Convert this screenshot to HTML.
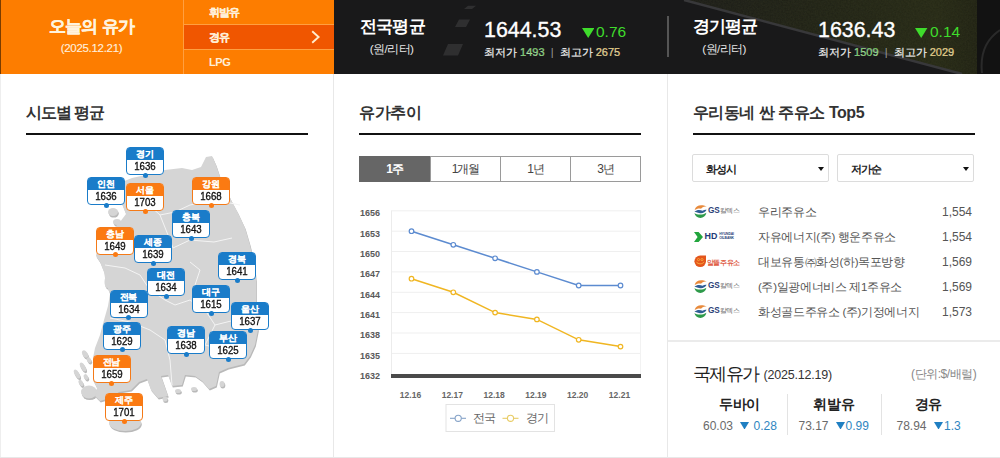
<!DOCTYPE html>
<html><head><meta charset="utf-8">
<style>
*{margin:0;padding:0;box-sizing:border-box}
html,body{width:1000px;height:458px;overflow:hidden;background:#fff;font-family:"Liberation Sans",sans-serif;color:#222;position:relative}
.abs{position:absolute;white-space:nowrap}
#hdr{position:absolute;left:0;top:0;width:1000px;height:74px;background:#141414}
#orange{position:absolute;left:0;top:0;width:334px;height:74px;background:#fd7d00;z-index:2}
#dark{position:absolute;left:333px;top:0;width:667px;height:74px;background:#171717;overflow:hidden}
.ttl{position:absolute;font-size:16px;letter-spacing:-1.1px;font-weight:bold;color:#333;white-space:nowrap}
.tline{position:absolute;height:2px;background:#111}
.vl{position:absolute;width:1px;background:#e8e8e8}
.lb{position:absolute;width:38px;height:28px;border-radius:4px;background:#fff;border:1.5px solid #1a7cc9;overflow:visible}
.lb .lh{height:12px;background:#1a7cc9;color:#fff;font-size:9px;font-weight:bold;text-align:center;line-height:12px;border-radius:2px 2px 0 0;letter-spacing:-0.4px;text-indent:-0.4px;-webkit-text-stroke:0.1px #fff}
.lb .lv{height:13px;color:#111;font-size:11.5px;text-align:center;line-height:13px;transform:scaleX(0.84);-webkit-text-stroke:0.35px #111}
.lb i{position:absolute;left:15.5px;top:24.5px;width:5px;height:5px;border-radius:50%;background:#1a7cc9}
.lb.o{border-color:#f47a18}
.lb.o .lh,.lb.o i{background:#fb7a12}
.lb.o .lh{color:#fff0d6}
.tab{position:absolute;top:156px;height:26px;border:1px solid #9a9a9a;font-size:12px;letter-spacing:-1px;text-align:center;line-height:24px;color:#444;background:#fff}
.dd{position:absolute;top:154px;height:28px;border:1px solid #dcdcdc;border-radius:2px;background:#fff}
.dd span{position:absolute;left:12.5px;top:7px;font-size:11px;letter-spacing:-0.6px;font-weight:bold;color:#222}
.dd b{position:absolute;right:4px;top:11.5px;width:0;height:0;border-left:3.8px solid transparent;border-right:3.8px solid transparent;border-top:4.6px solid #111}
.row{position:absolute;left:693px;width:282px;height:25px}
.row .nm{position:absolute;left:65px;top:5px;font-size:11.5px;letter-spacing:-0.35px;color:#555;white-space:nowrap}
.row .pr{position:absolute;right:3px;top:4.5px;font-size:12px;color:#555}
.col{position:absolute;top:394px;width:95px;text-align:center}
.col .cn{font-size:14px;letter-spacing:-0.3px;font-weight:bold;color:#222;line-height:20px}
.cv{top:418px;font-size:12px;color:#6a6a6a;line-height:16px}
.cv.bl{color:#2f86bf}
.tri{top:421.8px;width:9px;height:7.6px;fill:#1f7fc2}
</style></head><body>
<div id="hdr">
 <div id="orange">
  <div class="abs" style="left:0;width:183px;top:15px;text-align:center;font-size:17px;letter-spacing:-0.65px;font-weight:bold;color:#fff3de;-webkit-text-stroke:0.3px #fff3de">오늘의 유가</div>
  <div class="abs" style="left:0;width:183px;top:42px;text-align:center;font-size:11.5px;letter-spacing:-0.3px;color:#ffeedd;-webkit-text-stroke:0.15px #ffeedd">(2025.12.21)</div>
  <div class="abs" style="left:183px;top:0;width:1px;height:74px;background:#ff9f40"></div>
  <div class="abs" style="left:0;top:0;width:1px;height:74px;background:#7a3c00"></div>
  <div class="abs" style="left:184px;top:24px;width:150px;height:25px;background:#f05600"></div>
  <div class="abs" style="left:184px;top:24px;width:150px;height:1px;background:#ff9f40"></div>
  <div class="abs" style="left:184px;top:49px;width:150px;height:1px;background:#ff9f40"></div>
  <div class="abs" style="left:209px;top:4.5px;font-size:11px;letter-spacing:-0.9px;font-weight:bold;color:#ffefd8;-webkit-text-stroke:0.2px #ffefd8">휘발유</div>
  <div class="abs" style="left:209px;top:29.5px;font-size:11px;letter-spacing:-1px;font-weight:bold;color:#ffefd8;-webkit-text-stroke:0.2px #ffefd8">경유</div>
  <div class="abs" style="left:209px;top:56px;font-size:11px;letter-spacing:-0.4px;font-weight:bold;color:#ffefd8">LPG</div>
  <svg class="abs" style="left:309px;top:29px" width="12" height="16" viewBox="0 0 12 16"><path d="M3.2 2.3 L9.6 8 L3.2 13.7" fill="none" stroke="#ffeccc" stroke-width="1.9"/></svg>
 </div>
 <div id="dark">
  <svg class="abs" style="left:0;top:0" width="667" height="74" viewBox="333 0 667 74">
   <defs><linearGradient id="gr" x1="0" y1="0" x2="1" y2="0"><stop offset="0" stop-color="#1a1a17"/><stop offset="0.4" stop-color="#1e2014"/><stop offset="0.8" stop-color="#242714"/><stop offset="1" stop-color="#1b1c10"/></linearGradient><filter id="nz"><feTurbulence type="fractalNoise" baseFrequency="0.6" numOctaves="2" seed="3"/><feColorMatrix values="0 0 0 0 0.25  0 0 0 0 0.27  0 0 0 0 0.12  0 0 0 0.12 0"/><feComposite in2="SourceGraphic" operator="in"/></filter></defs>
   <rect x="333" y="0" width="667" height="74" fill="#19191a"/>
   <path d="M468,5.7 H476 L472,9 H464 Z M459,19.6 H470 L466,27 H455 Z M448,44 H463 L458,55.6 H443 Z" fill="#2f2f30"/>
   <path d="M684,0 H1000 V74 H962 Z" fill="url(#gr)"/><path d="M684,0 H1000 V74 H962 Z" fill="#000" filter="url(#nz)"/>
   <path d="M684,0 L962,74" stroke="#38383a" stroke-width="2.5"/>
   <rect x="977" y="0" width="23" height="74" fill="#121212"/>
   <path d="M1000,30 C985,40 980,55 982,73" stroke="#2a2a2a" stroke-width="2" fill="none"/>
  </svg>
  <div class="abs" style="left:0;width:119px;top:15px;text-align:center;font-size:17px;letter-spacing:-0.9px;font-weight:bold;color:#fff">전국평균</div>
  <div class="abs" style="left:0;width:117px;top:42px;text-align:center;font-size:11.7px;letter-spacing:-0.6px;color:#e6e6e6">(원/리터)</div>
  <div class="abs" style="left:151px;top:18px;font-size:21.4px;color:#fff;-webkit-text-stroke:0.35px #fff">1644.53</div>
  <svg class="abs" style="left:248.6px;top:27.5px" width="12.4" height="10" viewBox="0 0 12.4 10"><path d="M0,0 H12.4 L6.2,10 Z" fill="#3fdc2c"/></svg>
  <div class="abs" style="left:263px;top:22.5px;font-size:15.5px;color:#3fdc2c">0.76</div>
  <div class="abs" style="left:151px;top:45px;font-size:11px;color:#eeeeee;-webkit-text-stroke:0.2px #eee">최저가 <span style="color:#5cc94a">1493</span> &nbsp;<span style="color:#999;-webkit-text-stroke:0">|</span>&nbsp; 최고가 <span style="color:#e3c25a">2675</span></div>
  <div class="abs" style="left:334.3px;top:16px;width:1.6px;height:41px;background:#555"></div>
  <div class="abs" style="left:336px;width:112px;top:15px;text-align:center;font-size:17px;letter-spacing:-0.9px;font-weight:bold;color:#fff">경기평균</div>
  <div class="abs" style="left:335px;width:112px;top:42px;text-align:center;font-size:11.7px;letter-spacing:-0.6px;color:#e6e6e6">(원/리터)</div>
  <div class="abs" style="left:485px;top:18px;font-size:21.4px;color:#fff;-webkit-text-stroke:0.35px #fff">1636.43</div>
  <svg class="abs" style="left:582.2px;top:27.5px" width="12.4" height="10" viewBox="0 0 12.4 10"><path d="M0,0 H12.4 L6.2,10 Z" fill="#3fdc2c"/></svg>
  <div class="abs" style="left:597px;top:22.5px;font-size:15.5px;color:#3fdc2c">0.14</div>
  <div class="abs" style="left:485px;top:45px;font-size:11px;color:#eeeeee;-webkit-text-stroke:0.2px #eee">최저가 <span style="color:#5cc94a">1509</span> &nbsp;<span style="color:#999;-webkit-text-stroke:0">|</span>&nbsp; 최고가 <span style="color:#e3c25a">2029</span></div>
 </div>
</div>

<div class="vl" style="left:333px;top:74px;height:384px"></div><div class="vl" style="left:0;top:74px;height:384px;background:#eeeeee"></div>
<div class="vl" style="left:667px;top:74px;height:384px"></div>

<!-- panel 1 -->
<div class="ttl" style="left:26px;top:102.5px">시도별 평균</div>
<div class="tline" style="left:26px;top:133px;width:282px"></div>
<svg class="abs" style="left:0;top:0" width="333" height="458" viewBox="0 0 333 458">
 <defs><g id="land">
 <path d="M122,182 L132,178 L150,174 L165,170 L182,168 L192,170 L201,167 L206,157 L212,156 L216,165 L220,177 L226,189 L231,200 L238,213 L245,228 L250,245 L254,262 L256,280 L256,298 L257,315 L258,330 L255,345 L250,356 L244,364 L236,366 L228,368 L219,372 L216,386 L209,389 L202,381 L195,376 L185,375 L182,385 L172,386 L168,375 L161,376 L168,396 L158,398 L151,390 L147,379 L139,382 L131,390 L119,392 L110,398 L100,401 L95,396 L97,388 L93,380 L95,370 L93,358 L95,348 L100,335 L104,320 L108,306 L110,294 L106,284 L104,272 L100,262 L96,256 L98,246 L106,236 L114,228 L120,222 L126,214 L122,204 L118,196 L120,188 Z"/>
 <ellipse cx="125" cy="423" rx="16" ry="8"/>
 <ellipse cx="113" cy="212" rx="5" ry="4"/><ellipse cx="117" cy="222" rx="4" ry="3"/>
 <ellipse cx="89" cy="392" rx="8" ry="6.5"/>
 <ellipse cx="77" cy="374" rx="2.2" ry="5" transform="rotate(-30 77 374)"/><ellipse cx="81" cy="383" rx="2" ry="3.5" transform="rotate(-30 81 383)"/>
 <ellipse cx="83" cy="367" rx="2.2" ry="5" transform="rotate(-30 83 367)"/><ellipse cx="86" cy="377" rx="2" ry="3" transform="rotate(-30 86 377)"/>
 <ellipse cx="85" cy="354" rx="2.5" ry="4" transform="rotate(-30 85 354)"/><ellipse cx="89" cy="360" rx="2" ry="3" transform="rotate(-30 89 360)"/>
 <ellipse cx="107" cy="282" rx="2.5" ry="6"/><ellipse cx="165" cy="399" rx="2.5" ry="2.5"/><ellipse cx="178" cy="391" rx="3" ry="2"/><ellipse cx="194" cy="389" rx="3" ry="2"/><ellipse cx="222" cy="384" rx="2.5" ry="3"/>
 </g></defs>
 <use href="#land" x="0.8" y="1.6" fill="#b9b9b9"/>
 <use href="#land" fill="#d5d5d5"/>
 <g fill="none" stroke="#f4f4f4" stroke-width="1">
 <path d="M150,206 L160,215 L175,212 L190,205 L215,200 L240,205"/>
 <path d="M160,215 L168,235 L173,248 L190,240 L214,242 L232,238"/>
 <path d="M190,262 L200,270 L195,285"/>
 <path d="M105,265 L125,268 L140,275 L150,290 L165,300 L175,305"/>
 <path d="M110,318 L130,322 L150,330 L165,340 L170,360 L172,385"/>
 <path d="M175,305 L190,300 L205,310 L215,325 L205,345 L225,350 L245,355"/>
 <path d="M215,325 L235,320 L255,318"/>
 </g>
</svg>
<div class="lb b" style="left:126px;top:147px"><div class="lh">경기</div><div class="lv">1636</div><i></i></div>
<div class="lb b" style="left:87px;top:177px"><div class="lh">인천</div><div class="lv">1636</div><i></i></div>
<div class="lb o" style="left:126px;top:183px"><div class="lh">서울</div><div class="lv">1703</div><i></i></div>
<div class="lb o" style="left:192px;top:177px"><div class="lh">강원</div><div class="lv">1668</div><i></i></div>
<div class="lb b" style="left:172px;top:210px"><div class="lh">충북</div><div class="lv">1643</div><i></i></div>
<div class="lb o" style="left:96px;top:226.5px"><div class="lh">충남</div><div class="lv">1649</div><i></i></div>
<div class="lb b" style="left:134px;top:235px"><div class="lh">세종</div><div class="lv">1639</div><i></i></div>
<div class="lb b" style="left:147px;top:268px"><div class="lh">대전</div><div class="lv">1634</div><i></i></div>
<div class="lb b" style="left:109.5px;top:289.5px"><div class="lh">전북</div><div class="lv">1634</div><i></i></div>
<div class="lb b" style="left:218px;top:252px"><div class="lh">경북</div><div class="lv">1641</div><i></i></div>
<div class="lb b" style="left:192px;top:285px"><div class="lh">대구</div><div class="lv">1615</div><i></i></div>
<div class="lb b" style="left:231px;top:302px"><div class="lh">울산</div><div class="lv">1637</div><i></i></div>
<div class="lb b" style="left:103px;top:321.5px"><div class="lh">광주</div><div class="lv">1629</div><i></i></div>
<div class="lb b" style="left:167px;top:326px"><div class="lh">경남</div><div class="lv">1638</div><i></i></div>
<div class="lb b" style="left:209px;top:331px"><div class="lh">부산</div><div class="lv">1625</div><i></i></div>
<div class="lb o" style="left:92.5px;top:355px"><div class="lh">전남</div><div class="lv">1659</div><i></i></div>
<div class="lb o" style="left:105px;top:393px"><div class="lh">제주</div><div class="lv">1701</div><i></i></div>

<!-- panel 2 -->
<div class="ttl" style="left:359px;top:103px;letter-spacing:-0.35px">유가추이</div>
<div class="tline" style="left:359px;top:133px;width:282px"></div>
<div class="tab" style="left:359px;width:71px;background:#666;border-color:#666;color:#fff;font-weight:bold">1주</div>
<div class="tab" style="left:430px;width:71px">1개월</div>
<div class="tab" style="left:500px;width:71px">1년</div>
<div class="tab" style="left:570px;width:71px">3년</div>
<svg class="abs" style="left:0;top:0" width="1000" height="458" viewBox="0 0 1000 458">
<g><line x1="391" y1="210.8" x2="641" y2="210.8" stroke="#efefef" stroke-width="1"/><line x1="391" y1="231.2" x2="641" y2="231.2" stroke="#efefef" stroke-width="1"/><line x1="391" y1="251.5" x2="641" y2="251.5" stroke="#efefef" stroke-width="1"/><line x1="391" y1="271.9" x2="641" y2="271.9" stroke="#efefef" stroke-width="1"/><line x1="391" y1="292.3" x2="641" y2="292.3" stroke="#efefef" stroke-width="1"/><line x1="391" y1="312.6" x2="641" y2="312.6" stroke="#efefef" stroke-width="1"/><line x1="391" y1="333.0" x2="641" y2="333.0" stroke="#efefef" stroke-width="1"/><line x1="391" y1="353.4" x2="641" y2="353.4" stroke="#efefef" stroke-width="1"/><line x1="391.5" y1="210.8" x2="391.5" y2="375" stroke="#ececec"/><line x1="640.5" y1="210.8" x2="640.5" y2="375" stroke="#f2f2f2"/></g>
<rect x="391" y="374" width="250" height="4" fill="#4a4a4a"/>
<g font-family="Liberation Sans" font-size="9" font-weight="bold" fill="#5a5a5a"><text x="380" y="216.1" text-anchor="end">1656</text><text x="380" y="236.5" text-anchor="end">1653</text><text x="380" y="256.8" text-anchor="end">1650</text><text x="380" y="277.2" text-anchor="end">1647</text><text x="380" y="297.6" text-anchor="end">1644</text><text x="380" y="317.9" text-anchor="end">1641</text><text x="380" y="338.3" text-anchor="end">1638</text><text x="380" y="358.7" text-anchor="end">1635</text><text x="380" y="379.1" text-anchor="end">1632</text></g>
<g font-family="Liberation Sans" font-size="8.5" font-weight="bold" fill="#666"><text x="410.5" y="398" text-anchor="middle">12.16</text><text x="452.3" y="398" text-anchor="middle">12.17</text><text x="494.1" y="398" text-anchor="middle">12.18</text><text x="535.9" y="398" text-anchor="middle">12.19</text><text x="577.7" y="398" text-anchor="middle">12.20</text><text x="619.5" y="398" text-anchor="middle">12.21</text></g>
<polyline points="411.5,231.2 453.3,244.8 495.1,258.3 536.9,271.9 578.7,285.5 620.5,285.5" fill="none" stroke="#5c8bd0" stroke-width="1.5"/><circle cx="411.5" cy="231.2" r="2.3" fill="#fff" stroke="#5c8bd0" stroke-width="1.2"/><circle cx="453.3" cy="244.8" r="2.3" fill="#fff" stroke="#5c8bd0" stroke-width="1.2"/><circle cx="495.1" cy="258.3" r="2.3" fill="#fff" stroke="#5c8bd0" stroke-width="1.2"/><circle cx="536.9" cy="271.9" r="2.3" fill="#fff" stroke="#5c8bd0" stroke-width="1.2"/><circle cx="578.7" cy="285.5" r="2.3" fill="#fff" stroke="#5c8bd0" stroke-width="1.2"/><circle cx="620.5" cy="285.5" r="2.3" fill="#fff" stroke="#5c8bd0" stroke-width="1.2"/>
<polyline points="411.5,278.7 453.3,292.3 495.1,312.6 536.9,319.4 578.7,339.8 620.5,346.6" fill="none" stroke="#f0b622" stroke-width="1.5"/><circle cx="411.5" cy="278.7" r="2.3" fill="#fff" stroke="#f0b622" stroke-width="1.2"/><circle cx="453.3" cy="292.3" r="2.3" fill="#fff" stroke="#f0b622" stroke-width="1.2"/><circle cx="495.1" cy="312.6" r="2.3" fill="#fff" stroke="#f0b622" stroke-width="1.2"/><circle cx="536.9" cy="319.4" r="2.3" fill="#fff" stroke="#f0b622" stroke-width="1.2"/><circle cx="578.7" cy="339.8" r="2.3" fill="#fff" stroke="#f0b622" stroke-width="1.2"/><circle cx="620.5" cy="346.6" r="2.3" fill="#fff" stroke="#f0b622" stroke-width="1.2"/>
<rect x="446" y="404.5" width="108.5" height="27" fill="#fff" stroke="#e3e3e3"/>
<line x1="450" y1="418.3" x2="466" y2="418.3" stroke="#86a3c8" stroke-width="1.1"/><circle cx="458.2" cy="418.3" r="3.1" fill="#fff" stroke="#86a3c8" stroke-width="1.1"/>
<line x1="502.5" y1="418.3" x2="518.5" y2="418.3" stroke="#e8cc66" stroke-width="1.1"/><circle cx="510.5" cy="418.3" r="3.1" fill="#fff" stroke="#e8cc66" stroke-width="1.1"/>
</svg>
<div class="abs" style="left:473px;top:411px;font-size:11.5px;letter-spacing:-0.6px;color:#666">전국</div>
<div class="abs" style="left:526px;top:411px;font-size:11.5px;letter-spacing:-0.6px;color:#666">경기</div>

<!-- panel 3 -->
<div class="ttl" style="left:692.5px;top:103px;letter-spacing:-0.45px">우리동네 싼 주유소 Top5</div>
<div class="tline" style="left:693px;top:133px;width:282px"></div>
<div class="dd" style="left:692px;width:137px"><span>화성시</span><b></b></div>
<div class="dd" style="left:837px;width:137px"><span>저가순</span><b></b></div>

<div class="row" style="top:200px"><svg class="abs" style="left:0;top:0" width="50" height="25" viewBox="0 0 50 25">
<circle cx="7.4" cy="11.5" r="6.2" fill="#fff"/>
<path d="M1.6,10.2 C2.5,5.5 8,3.8 13.8,6.6 C11,6 9,7.2 8,8.8 C6,8.3 3.5,8.8 1.6,10.2 Z" fill="#e88a3c"/>
<path d="M1.4,11.6 C4,9.3 7.5,9.6 9.5,10.8 C11,9.8 12.5,9.4 13.6,9.8 C12.5,12.5 9.5,13.6 7,13.2 C5,12.9 3,12.4 1.4,11.6 Z" fill="#2f5d94"/>
<path d="M1.5,13 C3.5,14.8 9.5,15.5 13.4,12.8 C12.8,16.2 10.2,17.9 7.4,17.9 C4.4,17.9 2,15.8 1.5,13 Z" fill="#2e9a4a"/>
<text x="15" y="12.9" font-family="Liberation Sans" font-weight="bold" font-size="8.2" fill="#2b3f78" letter-spacing="-0.2">GS</text>
<text x="26.6" y="13" font-size="6.6" fill="#6a6a6a" letter-spacing="-0.1">칼텍스</text>
</svg><div class="nm">우리주유소</div><div class="pr">1,554</div></div>
<div class="row" style="top:225px"><svg class="abs" style="left:0;top:0" width="50" height="25" viewBox="0 0 50 25">
<path d="M1,7 H5.6 L10,12 L5.6,17 H1 L4.6,12 Z" fill="#22a53d"/>
<text x="11.6" y="13.5" font-family="Liberation Sans" font-weight="bold" font-size="8.9" fill="#223a78">HD</text>
<text x="26.2" y="10.4" font-family="Liberation Sans" font-weight="bold" font-size="3.4" fill="#2b3f78" letter-spacing="-0.1">HYUNDAI</text>
<text x="26.2" y="13.6" font-family="Liberation Sans" font-weight="bold" font-size="3.4" fill="#2b3f78" letter-spacing="-0.1">OILBANK</text>
</svg><div class="nm">자유에너지(주) 행운주유소</div><div class="pr">1,554</div></div>
<div class="row" style="top:250px"><svg class="abs" style="left:0;top:0" width="50" height="25" viewBox="0 0 50 25">
<path d="M7.2,5.5 H13 V11.3 A5.8,5.8 0 1 1 7.2,5.5 Z" fill="#e4561c"/>
<circle cx="5.5" cy="9.6" r="1.1" fill="none" stroke="#f9b040" stroke-width="0.8"/><circle cx="9" cy="9.6" r="1.1" fill="none" stroke="#f9b040" stroke-width="0.8"/>
<path d="M3.4,11.8 C4.5,14.5 9.8,14.5 11,11.8" fill="none" stroke="#f9b040" stroke-width="0.9"/>
<text x="13.6" y="14.6" font-size="6.6" font-weight="bold" fill="#e06048" letter-spacing="-0.3">알뜰주유소</text>
</svg><div class="nm">대보유통㈜화성(하)목포방향</div><div class="pr">1,569</div></div>
<div class="row" style="top:275px"><svg class="abs" style="left:0;top:0" width="50" height="25" viewBox="0 0 50 25">
<circle cx="7.4" cy="11.5" r="6.2" fill="#fff"/>
<path d="M1.6,10.2 C2.5,5.5 8,3.8 13.8,6.6 C11,6 9,7.2 8,8.8 C6,8.3 3.5,8.8 1.6,10.2 Z" fill="#e88a3c"/>
<path d="M1.4,11.6 C4,9.3 7.5,9.6 9.5,10.8 C11,9.8 12.5,9.4 13.6,9.8 C12.5,12.5 9.5,13.6 7,13.2 C5,12.9 3,12.4 1.4,11.6 Z" fill="#2f5d94"/>
<path d="M1.5,13 C3.5,14.8 9.5,15.5 13.4,12.8 C12.8,16.2 10.2,17.9 7.4,17.9 C4.4,17.9 2,15.8 1.5,13 Z" fill="#2e9a4a"/>
<text x="15" y="12.9" font-family="Liberation Sans" font-weight="bold" font-size="8.2" fill="#2b3f78" letter-spacing="-0.2">GS</text>
<text x="26.6" y="13" font-size="6.6" fill="#6a6a6a" letter-spacing="-0.1">칼텍스</text>
</svg><div class="nm">(주)일광에너비스 제1주유소</div><div class="pr">1,569</div></div>
<div class="row" style="top:300px"><svg class="abs" style="left:0;top:0" width="50" height="25" viewBox="0 0 50 25">
<circle cx="7.4" cy="11.5" r="6.2" fill="#fff"/>
<path d="M1.6,10.2 C2.5,5.5 8,3.8 13.8,6.6 C11,6 9,7.2 8,8.8 C6,8.3 3.5,8.8 1.6,10.2 Z" fill="#e88a3c"/>
<path d="M1.4,11.6 C4,9.3 7.5,9.6 9.5,10.8 C11,9.8 12.5,9.4 13.6,9.8 C12.5,12.5 9.5,13.6 7,13.2 C5,12.9 3,12.4 1.4,11.6 Z" fill="#2f5d94"/>
<path d="M1.5,13 C3.5,14.8 9.5,15.5 13.4,12.8 C12.8,16.2 10.2,17.9 7.4,17.9 C4.4,17.9 2,15.8 1.5,13 Z" fill="#2e9a4a"/>
<text x="15" y="12.9" font-family="Liberation Sans" font-weight="bold" font-size="8.2" fill="#2b3f78" letter-spacing="-0.2">GS</text>
<text x="26.6" y="13" font-size="6.6" fill="#6a6a6a" letter-spacing="-0.1">칼텍스</text>
</svg><div class="nm">화성골드주유소 (주)기정에너지</div><div class="pr">1,573</div></div>

<div class="abs" style="left:668px;top:340px;width:332px;height:2px;background:#ebebeb"></div>
<div class="abs" style="left:693px;top:361.5px;font-size:17.5px;letter-spacing:-1.7px;color:#222">국제유가</div><div class="abs" style="left:763.5px;top:367.5px;font-size:12.5px;color:#333;letter-spacing:-0.2px">(2025.12.19)</div>
<div class="abs" style="left:911px;top:366px;font-size:12px;letter-spacing:-0.45px;color:#888">(단위:$/배럴)</div>
<div class="col" style="left:692px"><div class="cn">두바이</div></div>
<div class="cv abs" style="left:703px">60.03</div><svg class="abs tri" style="left:740px"><path d="M0,0 H9 L4.5,7.6 Z"/></svg><div class="cv abs bl" style="left:753.5px">0.28</div>
<div class="col" style="left:786.5px"><div class="cn">휘발유</div></div>
<div class="cv abs" style="left:798.5px">73.17</div><svg class="abs tri" style="left:835.5px"><path d="M0,0 H9 L4.5,7.6 Z"/></svg><div class="cv abs bl" style="left:845.5px">0.99</div>
<div class="col" style="left:881px"><div class="cn">경유</div></div>
<div class="cv abs" style="left:896.5px">78.94</div><svg class="abs tri" style="left:933.5px"><path d="M0,0 H9 L4.5,7.6 Z"/></svg><div class="cv abs bl" style="left:944px">1.3</div>
<div class="abs" style="left:787px;top:394px;width:1px;height:41px;background:#e3e3e3"></div>
<div class="abs" style="left:881px;top:394px;width:1px;height:41px;background:#e3e3e3"></div>
<div class="abs" style="left:0;top:457px;width:1000px;height:1px;background:#e8e8e8"></div>
</body></html>
